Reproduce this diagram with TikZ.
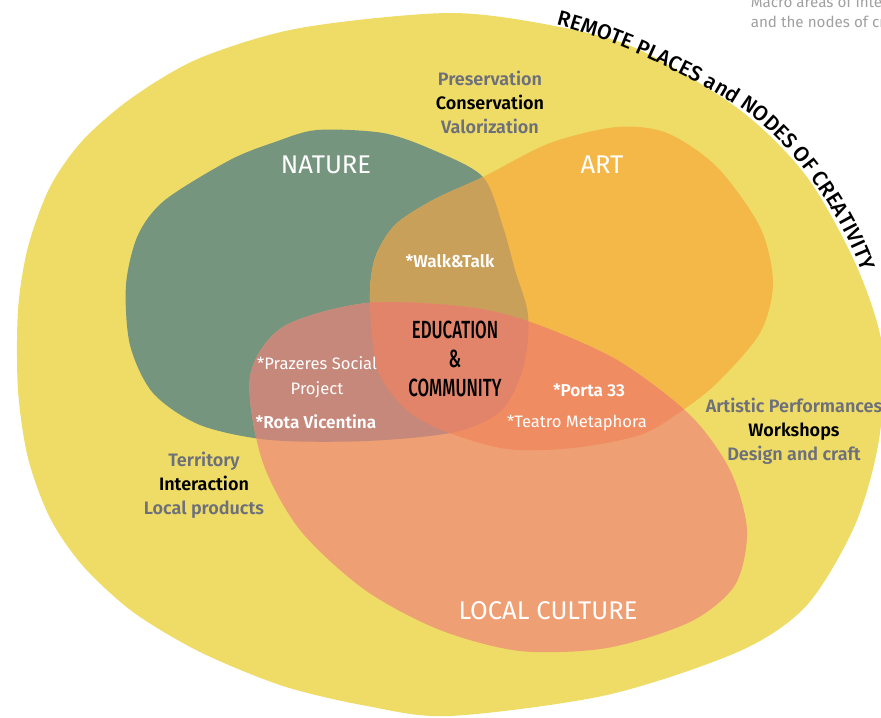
\documentclass[tikz,border=0pt]{standalone}
\usepackage{fontspec}
\setmainfont{Fira Sans}[BoldFont={Fira Sans SemiBold}]
\newfontfamily\condfont{Fira Sans Medium}[FakeStretch=0.68]
\newfontfamily\arcfont{Fira Sans Medium}
\usetikzlibrary{decorations.text}
\definecolor{bgyellow}{HTML}{EEDC66}
\definecolor{natgreen}{HTML}{76957F}
\definecolor{artorange}{HTML}{F4B848}
\definecolor{natart}{HTML}{C9A05A}
\definecolor{cultsalmon}{HTML}{EE9F73}
\definecolor{natcult}{HTML}{C6887A}
\definecolor{artcult}{HTML}{F08C62}
\definecolor{allthree}{HTML}{E1846A}
\definecolor{greytxt}{HTML}{6D6F7B}
\definecolor{notegrey}{HTML}{A0A0A0}
\newcommand\remoteblob{plot[smooth cycle] coordinates {(450,-13) (560,-27) (640,-50) (740,-110) (807,-177) (857,-267) (883,-350) (879,-440) (855,-525) (807,-605) (740,-651) (607,-695) (450,-716) (367,-706) (283,-686) (200,-652) (133,-612) (83,-566) (50,-518) (28,-458) (18,-390) (18,-310) (28,-247) (50,-187) (83,-140) (133,-97) (200,-58) (300,-28)}}
\newcommand\natureblob{plot[smooth cycle] coordinates {(317,-130) (383,-133) (433,-150) (483,-177) (503,-227) (515,-270) (528,-315) (524,-365) (502,-410) (455,-432) (367,-441) (270,-440) (200,-425) (153,-393) (130,-345) (126,-285) (138,-235) (165,-200) (230,-160) (275,-142)}}
\newcommand\artblob{plot[smooth cycle] coordinates {(370,-300) (375,-258) (395,-225) (433,-200) (483,-177) (550,-143) (617,-127) (667,-133) (717,-167) (760,-227) (773,-283) (760,-333) (717,-383) (680,-412) (640,-435) (573,-448) (507,-449) (447,-432) (407,-410) (378,-370)}}
\newcommand\cultureblob{plot[smooth cycle] coordinates {(250,-377) (283,-327) (367,-303) (467,-307) (533,-323) (617,-360) (690,-415) (730,-470) (747,-530) (735,-585) (690,-622) (607,-648) (520,-651) (440,-630) (365,-590) (300,-530) (262,-460)}}
\begin{document}
\begin{tikzpicture}[x=0.25pt,y=0.25pt,
  big/.style={text=white,font=\fontsize{6.4}{7.5}\selectfont},
  proj/.style={text=white,align=center,font=\fontsize{4.15}{6.2}\selectfont},
  projb/.style={text=white,font=\bfseries\fontsize{4.3}{6.2}\selectfont},
  macro/.style={align=center,font=\bfseries\fontsize{4.5}{6}\selectfont},
  note/.style={anchor=base west,inner sep=0pt,text=notegrey,font=\fontsize{3.8}{5}\selectfont}]
\useasboundingbox (0,0) rectangle (881,-718);
\clip (0,0) rectangle (881,-718);
\fill[bgyellow] \remoteblob;
\fill[natgreen] \natureblob;
\fill[artorange] \artblob;
\begin{scope}\clip \natureblob; \fill[natart] \artblob;\end{scope}
\fill[cultsalmon] \cultureblob;
\begin{scope}\clip \cultureblob; \fill[natcult] \natureblob;\end{scope}
\begin{scope}\clip \cultureblob; \fill[artcult] \artblob;\end{scope}
\begin{scope}\clip \cultureblob; \clip \natureblob; \fill[allthree] \artblob;\end{scope}
\path[decorate,decoration={text along path,text align=fit to path,
  text={|\arcfont\fontsize{5.3}{6}\selectfont|REMOTE PLACES and NODES OF CREATIVITY}}]
  (556,-25) .. controls (610,-38) and (690,-75) .. (741,-108)
  .. controls (790,-140) and (840,-210) .. (862,-272);
\node[note] (note1) at (750,-7) {Macro areas of interest};
\node[note] (note2) at (750,-27) {and the nodes of creativity};
\node[big] (nature) at (326,-165) {NATURE};
\node[big] (art) at (602,-165) {ART};
\node[big] (culture) at (548,-611) {LOCAL CULTURE};
\node[macro] (natmacro) at (490,-102) {\textcolor{greytxt}{Preservation}\\Conservation\\\textcolor{greytxt}{Valorization}};
\node[macro] (artmacro) at (794,-431) {\textcolor{greytxt}{Artistic Performances}\\Workshops\\\textcolor{greytxt}{Design and craft}};
\node[macro] (cultmacro) at (204,-485) {\textcolor{greytxt}{Territory}\\Interaction\\\textcolor{greytxt}{Local products}};
\node[projb] (walk) at (450,-261) {*Walk\&Talk};
\node[align=center,font=\condfont\fontsize{6.2}{7.2}\selectfont] (edu) at (455,-359) {EDUCATION\\\&\\COMMUNITY};
\node[proj] (prazeres) at (317,-377) {*Prazeres Social\\Project};
\node[projb] (rota) at (316,-422) {*Rota Vicentina};
\node[projb] (porta) at (589,-390) {*Porta 33};
\node[proj] (teatro) at (577,-423) {*Teatro Metaphora};
\end{tikzpicture}
\end{document}
